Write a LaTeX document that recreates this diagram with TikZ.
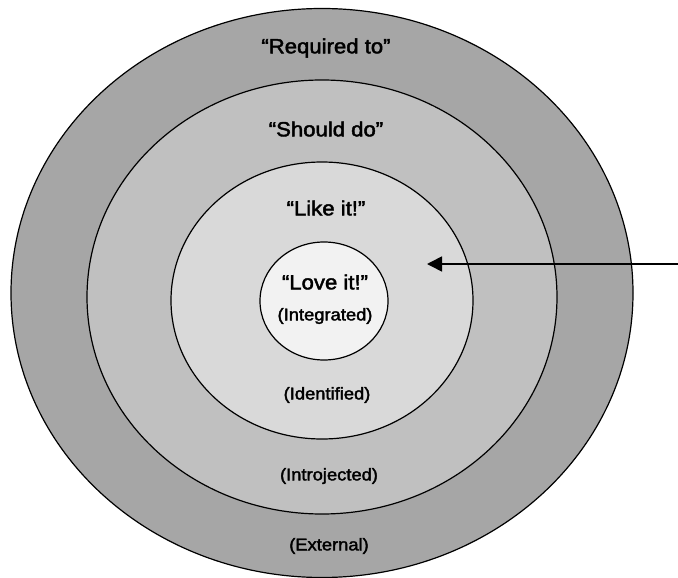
\documentclass[tikz,border=0pt]{standalone}
\usepackage{fontspec}
\setmainfont{Liberation Sans}
\newfontfamily\labelfont[FakeBold=2]{Liberation Sans}
\usetikzlibrary{arrows.meta}
\definecolor{ringA}{HTML}{A6A6A6}
\definecolor{ringB}{HTML}{C0C0C0}
\definecolor{ringC}{HTML}{D9D9D9}
\definecolor{ringD}{HTML}{F2F2F2}
\begin{document}
\begin{tikzpicture}[x=1pt,y=-1pt,
  ring/.style={draw=black,line width=1.2pt},
  biglabel/.style={font=\labelfont\fontsize{20.5}{24}\selectfont,xscale=1.08,inner sep=0pt},
  smalllabel/.style={font=\labelfont\fontsize{17}{20}\selectfont,xscale=1.08,inner sep=0pt}]
\useasboundingbox (0,0) rectangle (678,578);
\fill[white] (0,0) rectangle (678,578);
\draw[ring,fill=ringA] (322,293) ellipse [x radius=311,y radius=284.5];
\draw[ring,fill=ringB] (322,297) ellipse [x radius=235,y radius=217];
\draw[ring,fill=ringC] (322,300.5) ellipse [x radius=151,y radius=138.5];
\draw[ring,fill=ringD] (324,301) ellipse [x radius=64,y radius=59];
\node[biglabel] (req) at (326,48) {“Required to”};
\node[biglabel] (should) at (326,129) {“Should do”};
\node[biglabel] (like) at (326,208) {“Like it!”};
\node[biglabel] (love) at (325,282) {“Love it!”};
\node[smalllabel] (integ) at (325,316) {(Integrated)};
\node[smalllabel] (ident) at (327,395) {(Identified)};
\node[smalllabel] (intro) at (329,476) {(Introjected)};
\node[smalllabel] (ext) at (329,546) {(External)};
\coordinate (start) at (678,264);
\coordinate (tip) at (427,264);
\draw[line width=1.6pt,-{Triangle[length=15pt,width=15pt]}] (start) -- (tip);
\end{tikzpicture}
\end{document}
